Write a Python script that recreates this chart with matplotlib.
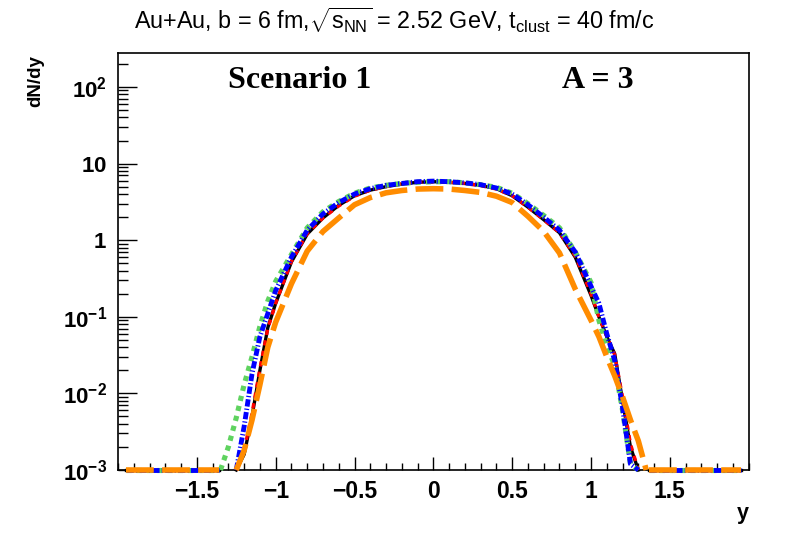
import numpy as np
import matplotlib
matplotlib.use("Agg")
import matplotlib.pyplot as plt
from matplotlib.ticker import MultipleLocator, LogLocator, FixedLocator, NullFormatter

plt.rcParams['font.family'] = ['Liberation Sans', 'DejaVu Sans']
plt.rcParams['mathtext.fontset'] = 'custom'
plt.rcParams['mathtext.rm'] = 'Liberation Sans'
plt.rcParams['mathtext.it'] = 'Liberation Sans:italic'
plt.rcParams['mathtext.bf'] = 'Liberation Sans:bold'

# ---------------- data ----------------
y_bins = [-1.35, -1.3, -1.25, -1.2, -1.15, -1.1, -1.05, -1.0, -0.9, -0.8, -0.7, -0.6,
          -0.5, -0.4, -0.3, -0.2, -0.1, 0.0, 0.1, 0.2, 0.3, 0.4, 0.5, 0.6, 0.7, 0.8,
          0.9, 1.0, 1.05, 1.1, 1.15, 1.2, 1.25, 1.3, 1.35]

dndy_black = [0, 0, 0, 0.0016, 0.005, 0.02, 0.072, 0.15, 0.52, 1.2, 1.95, 2.85,
              3.8, 4.5, 5.0, 5.4, 5.7, 5.8, 5.7, 5.5, 5.2, 4.7, 3.8, 2.7, 1.85, 1.25,
              0.6, 0.19, 0.1, 0.055, 0.033, 0.008, 0.002, 0, 0]
dndy_red = [0, 0, 0, 0.0018, 0.0055, 0.021, 0.07, 0.15, 0.53, 1.22, 1.95, 2.8,
            3.75, 4.5, 5.0, 5.45, 5.7, 5.75, 5.7, 5.5, 5.15, 4.65, 3.8, 2.7, 1.85, 1.25,
            0.62, 0.2, 0.1, 0.056, 0.032, 0.009, 0.0022, 0, 0]
dndy_green = [0, 0.002, 0.0048, 0.013, 0.03, 0.075, 0.16, 0.29, 0.65, 1.45, 2.35, 3.2,
              4.1, 4.8, 5.2, 5.5, 5.7, 5.8, 5.8, 5.6, 5.3, 4.9, 4.1, 3.0, 2.1, 1.45,
              0.7, 0.28, 0.09, 0.042, 0.023, 0.006, 0.0012, 0, 0]
dndy_blue = [0, 0, 0, 0.0037, 0.018, 0.055, 0.11, 0.22, 0.6, 1.35, 2.2, 3.1,
             4.0, 4.7, 5.2, 5.5, 5.8, 5.9, 5.8, 5.6, 5.3, 4.8, 4.0, 2.9, 2.0, 1.35,
             0.7, 0.25, 0.15, 0.06, 0.027, 0.0065, 0.0012, 0, 0]
dndy_orange = [0, 0, 0, 0.0018, 0.0045, 0.013, 0.04, 0.085, 0.27, 0.72, 1.3, 1.95,
               2.9, 3.6, 4.15, 4.45, 4.65, 4.7, 4.65, 4.45, 4.2, 3.75, 3.1, 2.05, 1.3, 0.68,
               0.23, 0.09, 0.055, 0.03, 0.017, 0.009, 0.0045, 0.0024, 0]

# ranges of empty bins (drawn on the axis floor)
empty_left = [-1.95, -1.36]
empty_right = [1.37, 1.95]

x_ticks = [-1.5, -1.0, -0.5, 0.0, 0.5, 1.0, 1.5]
x_ticklabels = ['\u22121.5', '\u22121', '\u22120.5', '0', '0.5', '1', '1.5']
y_ticks = [1e-3, 1e-2, 1e-1, 1, 10, 100]
y_ticklabels = [r'$\mathbf{10^{-3}}$', r'$\mathbf{10^{-2}}$', r'$\mathbf{10^{-1}}$',
                r'$\mathbf{1}$', r'$\mathbf{10}$', r'$\mathbf{10^{2}}$']

XMIN, XMAX = -2.0, 2.0
YMIN, YMAX = 1e-3, 280.0

# ---------------- figure ----------------
fig = plt.figure(figsize=(7.88, 5.34), dpi=100)
ax = fig.add_axes([118/788, 1-470/534, (748.7-118)/788, (470-52.7)/534])
ax.set_yscale('log')
ax.set_xlim(XMIN, XMAX)
ax.set_ylim(YMIN, YMAX)

styles = [
    (dndy_black, dict(color='black', lw=2.4, ls='-')),
    (dndy_red, dict(color='red', lw=2.4, ls=(0, (1.6, 1.6)))),
    (dndy_green, dict(color='#5fd35f', lw=3.7, ls=(0, (1.0, 1.0)))),
    (dndy_blue, dict(color='#0000ff', lw=3.5, ls=(0, (1.5, 0.45, 0.25, 0.45)))),
    (dndy_orange, dict(color='#ff8c00', lw=4.0, ls=(0, (5.0, 1.5)))),
]

xb = np.array(y_bins)
for vals, st in styles:
    v = np.array(vals, dtype=float)
    nz = np.nonzero(v > 0)[0]
    i0 = max(nz[0] - 1, 0)
    i1 = min(nz[-1] + 1, len(v) - 1)
    yy = np.where(v > 0, v, YMIN)
    ax.plot(xb[i0:i1+1], yy[i0:i1+1], clip_on=False, zorder=3, **st)
    ax.plot(empty_left, [YMIN, YMIN], clip_on=False, zorder=3, **st)
    ax.plot(empty_right, [YMIN, YMIN], clip_on=False, zorder=3, **st)

# ticks
ax.xaxis.set_major_locator(FixedLocator(x_ticks))
ax.set_xticklabels(x_ticklabels)
ax.xaxis.set_minor_locator(MultipleLocator(0.1))
ax.yaxis.set_major_locator(FixedLocator(y_ticks))
ax.set_yticklabels(y_ticklabels)
ax.yaxis.set_minor_locator(LogLocator(base=10, subs=np.arange(2, 10), numticks=20))
ax.yaxis.set_minor_formatter(NullFormatter())

ax.tick_params(axis='both', which='both', direction='in', top=False, right=False, width=1.0)
ax.tick_params(axis='x', which='major', length=9.5, pad=7, labelsize=16.5)
ax.tick_params(axis='x', which='minor', length=5)
ax.tick_params(axis='y', which='major', length=13.5, pad=8, labelsize=16)
ax.tick_params(axis='y', which='minor', length=7.5)
for lab in ax.get_xticklabels():
    lab.set_fontweight('bold')
for sp in ax.spines.values():
    sp.set_linewidth(1.2)

# labels
ax.text(1.0, -0.08, 'y', transform=ax.transAxes, ha='right', va='top',
        fontsize=15.5, fontweight='bold')
ax.text(-0.130, 0.995, 'dN/dy', transform=ax.transAxes, rotation=90, ha='center', va='top',
        fontsize=13.5, fontweight='bold')

fig.text(0.5, 1-20/534,
         r'Au+Au, b = 6 fm,$\sqrt{\mathrm{s}_{\mathrm{NN}}}$ = 2.52 GeV, $\mathrm{t}_{\mathrm{clust}}$ = 40 fm/c',
         ha='center', va='center', fontsize=16.8)

ax.text((300-118)/630.7, 1-(80-52.7)/417.3, 'Scenario 1', transform=ax.transAxes,
        ha='center', va='center', fontsize=23, fontweight='bold', family=['Liberation Serif'])
ax.text((598-118)/630.7, 1-(80-52.7)/417.3, 'A = 3', transform=ax.transAxes,
        ha='center', va='center', fontsize=23, fontweight='bold', family=['Liberation Serif'])

fig.savefig('out.png', dpi=100)
